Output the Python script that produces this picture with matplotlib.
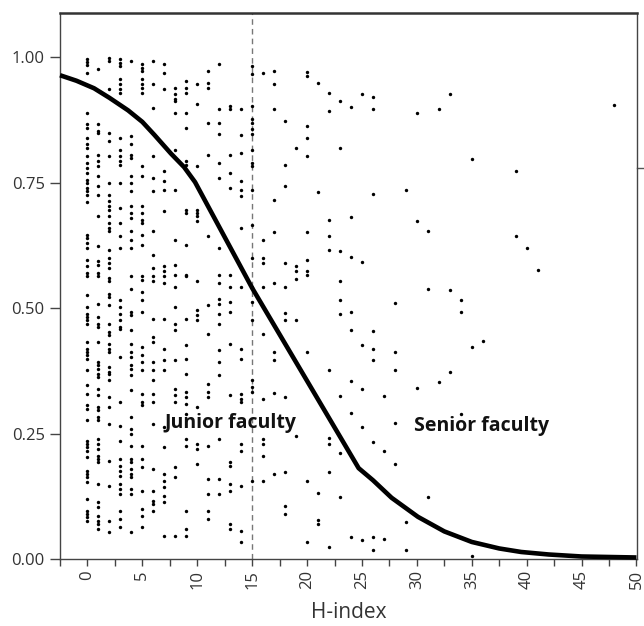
import matplotlib
matplotlib.use("Agg")
import matplotlib.pyplot as plt
import numpy as np

# ---- data: share (y) values of points, one list per H-index column ----
y_h0 = [0.996, 0.990, 0.985, 0.969, 0.889, 0.866, 0.859, 0.839, 0.826, 0.819, 0.803, 0.789, 0.779, 0.769, 0.756,
        0.749, 0.739, 0.733, 0.726, 0.711, 0.646, 0.639, 0.629, 0.619, 0.596, 0.583, 0.569, 0.563, 0.526, 0.503,
        0.489, 0.483, 0.476, 0.469, 0.433, 0.419, 0.413, 0.406, 0.399, 0.376, 0.346, 0.329, 0.306, 0.299, 0.276,
        0.236, 0.229, 0.223, 0.216, 0.203, 0.176, 0.169, 0.163, 0.153, 0.119, 0.096, 0.089, 0.083, 0.076]
y_h1 = [0.976, 0.866, 0.853, 0.849, 0.806, 0.793, 0.783, 0.763, 0.743, 0.726, 0.683, 0.623, 0.593, 0.586, 0.569,
        0.563, 0.509, 0.483, 0.469, 0.463, 0.433, 0.393, 0.386, 0.379, 0.369, 0.363, 0.339, 0.326, 0.303, 0.296,
        0.283, 0.276, 0.239, 0.229, 0.219, 0.206, 0.199, 0.193, 0.149, 0.113, 0.103, 0.086, 0.076, 0.069, 0.059]
y_h2 = [0.999, 0.993, 0.936, 0.849, 0.833, 0.803, 0.749, 0.726, 0.713, 0.703, 0.696, 0.683, 0.669, 0.659, 0.653,
        0.616, 0.599, 0.589, 0.579, 0.559, 0.553, 0.529, 0.523, 0.506, 0.469, 0.453, 0.446, 0.429, 0.419, 0.413,
        0.383, 0.373, 0.369, 0.356, 0.323, 0.303, 0.269, 0.196, 0.146, 0.076, 0.053]
y_h3 = [0.996, 0.989, 0.983, 0.956, 0.946, 0.936, 0.929, 0.839, 0.816, 0.803, 0.793, 0.786, 0.749, 0.699, 0.669,
        0.643, 0.619, 0.516, 0.503, 0.489, 0.476, 0.463, 0.459, 0.403, 0.313, 0.266, 0.236, 0.199, 0.186, 0.176,
        0.166, 0.149, 0.139, 0.129, 0.096, 0.079, 0.063]
y_h4 = [0.993, 0.843, 0.826, 0.806, 0.799, 0.763, 0.749, 0.733, 0.703, 0.689, 0.679, 0.653, 0.636, 0.619, 0.563,
        0.539, 0.493, 0.486, 0.456, 0.429, 0.413, 0.403, 0.386, 0.379, 0.366, 0.336, 0.283, 0.259, 0.249, 0.226,
        0.199, 0.193, 0.179, 0.169, 0.163, 0.139, 0.129, 0.053]
y_h5 = [0.986, 0.979, 0.973, 0.956, 0.946, 0.939, 0.929, 0.783, 0.763, 0.703, 0.689, 0.676, 0.669, 0.646, 0.626,
        0.563, 0.556, 0.533, 0.516, 0.493, 0.423, 0.406, 0.393, 0.376, 0.329, 0.313, 0.306, 0.226, 0.199, 0.183,
        0.136, 0.099, 0.086, 0.063]
y_h6 = [0.993, 0.946, 0.899, 0.803, 0.759, 0.733, 0.653, 0.606, 0.579, 0.563, 0.553, 0.479, 0.443, 0.433, 0.393,
        0.376, 0.356, 0.329, 0.313, 0.269, 0.179, 0.136, 0.116, 0.109, 0.096]
y_h7 = [0.986, 0.969, 0.936, 0.773, 0.753, 0.736, 0.693, 0.583, 0.573, 0.563, 0.549, 0.479, 0.419, 0.396, 0.376,
        0.263, 0.223, 0.169, 0.156, 0.143, 0.126, 0.113, 0.046]
y_h8 = [0.939, 0.926, 0.916, 0.913, 0.889, 0.816, 0.736, 0.636, 0.586, 0.566, 0.543, 0.503, 0.469, 0.456, 0.396,
        0.339, 0.326, 0.313, 0.183, 0.163, 0.046]
y_h9 = [0.953, 0.939, 0.929, 0.889, 0.859, 0.793, 0.786, 0.696, 0.689, 0.626, 0.566, 0.563, 0.479, 0.426, 0.399,
        0.369, 0.333, 0.323, 0.309, 0.289, 0.239, 0.226, 0.096, 0.059, 0.046]
y_h10 = [0.946, 0.906, 0.783, 0.696, 0.689, 0.683, 0.673, 0.553, 0.496, 0.486, 0.476, 0.303, 0.229, 0.219, 0.189]
y_h11 = [0.973, 0.949, 0.939, 0.869, 0.806, 0.643, 0.506, 0.449, 0.349, 0.333, 0.323, 0.226, 0.159, 0.129, 0.096,
         0.079]
y_h12 = [0.986, 0.896, 0.869, 0.846, 0.789, 0.759, 0.619, 0.566, 0.549, 0.519, 0.509, 0.489, 0.469, 0.416, 0.393,
         0.366, 0.239, 0.159, 0.129]
y_h13 = [0.903, 0.896, 0.806, 0.769, 0.739, 0.566, 0.543, 0.513, 0.493, 0.429, 0.326, 0.193, 0.186, 0.149, 0.136,
         0.069, 0.059]
y_h14 = [0.896, 0.844, 0.809, 0.753, 0.736, 0.723, 0.659, 0.543, 0.419, 0.399, 0.329, 0.319, 0.313, 0.229, 0.216,
         0.146, 0.056, 0.033]
y_h15 = [0.983, 0.966, 0.903, 0.876, 0.869, 0.856, 0.846, 0.816, 0.789, 0.783, 0.736, 0.666, 0.599, 0.543, 0.513,
         0.476, 0.356, 0.343, 0.333, 0.156]
y_h16 = [0.969, 0.636, 0.599, 0.589, 0.543, 0.449, 0.319, 0.239, 0.229, 0.206, 0.156]
y_h17 = [0.973, 0.946, 0.896, 0.716, 0.651, 0.549, 0.413, 0.396, 0.331, 0.169]
y_h18 = [0.873, 0.785, 0.743, 0.589, 0.543, 0.491, 0.476, 0.323, 0.173, 0.106, 0.089]
y_h19 = [0.819, 0.583, 0.573, 0.557, 0.477, 0.246]
y_h20 = [0.971, 0.963, 0.863, 0.839, 0.804, 0.651, 0.596, 0.573, 0.566, 0.413, 0.156, 0.033]
y_h21 = [0.949, 0.731, 0.131, 0.077, 0.069]
y_h22 = [0.929, 0.893, 0.676, 0.643, 0.616, 0.377, 0.241, 0.229, 0.173, 0.023]
y_h23 = [0.913, 0.819, 0.613, 0.553, 0.516, 0.489, 0.324, 0.211, 0.123]
y_h24 = [0.901, 0.681, 0.601, 0.493, 0.457, 0.355, 0.291, 0.044]
y_h25 = [0.926, 0.591, 0.426, 0.339, 0.263, 0.037]
y_h26 = [0.921, 0.897, 0.728, 0.454, 0.419, 0.397, 0.234, 0.044, 0.017]
y_h27 = [0.325, 0.215, 0.039]
y_h28 = [0.511, 0.413, 0.376, 0.271, 0.189]
y_h29 = [0.736, 0.073, 0.017]
y_h30 = [0.889, 0.674, 0.341]
y_h31 = [0.653, 0.539, 0.123]
y_h32 = [0.897, 0.353]
y_h33 = [0.926, 0.537, 0.373]
y_h34 = [0.517, 0.492, 0.289]
y_h35 = [0.798, 0.423, 0.005]
y_h36 = [0.434]
y_h39 = [0.773, 0.643]
y_h40 = [0.619]
y_h41 = [0.576]
y_h48 = [0.904]

columns = [(0, y_h0), (1, y_h1), (2, y_h2), (3, y_h3), (4, y_h4), (5, y_h5), (6, y_h6), (7, y_h7),
           (8, y_h8), (9, y_h9), (10, y_h10), (11, y_h11), (12, y_h12), (13, y_h13), (14, y_h14),
           (15, y_h15), (16, y_h16), (17, y_h17), (18, y_h18), (19, y_h19), (20, y_h20), (21, y_h21),
           (22, y_h22), (23, y_h23), (24, y_h24), (25, y_h25), (26, y_h26), (27, y_h27), (28, y_h28),
           (29, y_h29), (30, y_h30), (31, y_h31), (32, y_h32), (33, y_h33), (34, y_h34), (35, y_h35),
           (36, y_h36), (39, y_h39), (40, y_h40), (41, y_h41), (48, y_h48)]

# fitted curve
curve_x = [-2.5, -1.0, 0.6, 2.0, 3.7, 5.0, 6.1, 7.6, 8.8, 9.8, 15, 20, 24.7, 26.0, 27.7, 30.1, 32.5, 35, 37.5,
           39.5, 42, 45, 47.5, 50]
curve_y = [0.964, 0.953, 0.938, 0.919, 0.894, 0.871, 0.845, 0.808, 0.781, 0.751, 0.54, 0.355, 0.181, 0.157,
           0.122, 0.084, 0.055, 0.034, 0.021, 0.014, 0.009, 0.005, 0.004, 0.003]

cutoff = 15
x_ticks = [0, 5, 10, 15, 20, 25, 30, 35, 40, 45, 50]
y_ticks = [0.00, 0.25, 0.50, 0.75, 1.00]
y_ticklabels = ["0.00", "0.25", "0.50", "0.75", "1.00"]

# ---- figure ----
fig = plt.figure(figsize=(6.44, 6.26), dpi=100)
ax = fig.add_axes([60 / 644, (626 - 559) / 626, (637 - 60) / 644, (559 - 13) / 626])

xs = np.concatenate([np.full(len(v), h, dtype=float) for h, v in columns])
ys = np.concatenate([np.asarray(v, dtype=float) for h, v in columns])
ax.scatter(xs, ys, s=6, c="black", marker="o", linewidths=0, zorder=3)

ax.plot(curve_x, curve_y, color="black", lw=3.3, solid_capstyle="butt", solid_joinstyle="round", zorder=4,
        clip_on=False)
ax.axvline(cutoff, color="#777777", lw=1.0, dashes=(4, 3), zorder=2)

ax.set_xlim(-2.46, 50.05)
ax.set_ylim(0, 1.088)

minor_positions = np.arange(-2.5, 50.1, 2.5)
ax.set_xticks(minor_positions)
ax.set_xticklabels([str(int(t)) if t in x_ticks else "" for t in minor_positions],
                   rotation=90, fontfamily="Open Sans", fontsize=12, color="#333333")
ax.set_yticks(y_ticks)
ax.set_yticklabels(y_ticklabels, fontfamily="Open Sans", fontsize=12, color="#333333")
ax.tick_params(axis="y", length=7, width=1.0, color="#444444", pad=4)
ax.tick_params(axis="x", length=5, width=1.0, color="#444444", pad=3)

for side in ["left", "bottom", "right"]:
    ax.spines[side].set_color("#444444")
    ax.spines[side].set_linewidth(1.0)
ax.spines["top"].set_color("#333333")
ax.spines["top"].set_linewidth(1.8)

ax.set_xlabel("H-index", fontfamily="Open Sans", fontsize=15, color="#333333", labelpad=9)

ax.text(7, 0.271, "Junior faculty", fontfamily="Open Sans", fontweight="bold", fontsize=14,
        ha="left", va="center", color="#111111", zorder=5)
ax.text(29.7, 0.266, "Senior faculty", fontfamily="Open Sans", fontweight="bold", fontsize=14,
        ha="left", va="center", color="#111111", zorder=5)

# small stray tick on the right edge
ax.plot([1.0, 1.012], [0.779, 0.779], transform=ax.get_yaxis_transform(), color="#555555", lw=1.0,
        clip_on=False)

fig.savefig("out.png", dpi=100)
